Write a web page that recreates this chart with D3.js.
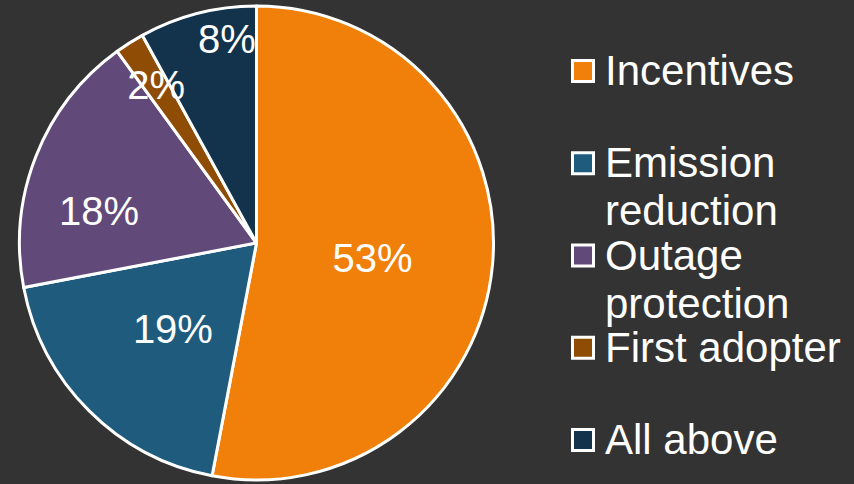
<!DOCTYPE html>
<html>
<head>
<meta charset="utf-8">
<script src="https://cdn.jsdelivr.net/npm/d3@7"></script>
<style>
  html, body { margin: 0; padding: 0; background: #333333; }
  svg { display: block; }
  text { font-family: "Liberation Sans", Arial, sans-serif; fill: #ffffff; }
</style>
</head>
<body>
<svg id="chart" width="854" height="484"></svg>
<script>
// Share of respondents by primary motivation
const categories = ["Incentives", "Emission reduction", "Outage protection", "First adopter", "All above"];
const shares = [53, 19, 18, 2, 8];
const legendLines = [["Incentives"], ["Emission", "reduction"], ["Outage", "protection"], ["First adopter"], ["All above"]];

const colors = ["#F0800A", "#1E5B7D", "#614A7A", "#8F4C05", "#12334B"];

// Label placement along each slice: angle (deg, clockwise from top) and radius fraction
const labelPlacement = [
  { angle: 97.4, r: 0.494 },
  { angle: 224.2, r: 0.506 },
  { angle: 281.5, r: 0.678 },
  { angle: 327.6, r: 0.79 },
  { angle: 351.8, r: 0.873 }
];

const svg = d3.select("#chart");
const cx = 256.5, cy = 243, radius = 237;

const pie = d3.pie().sort(null).value(d => d)(shares);
const arc = d3.arc().innerRadius(0).outerRadius(radius);

const g = svg.append("g").attr("transform", `translate(${cx},${cy})`);

g.selectAll("path.slice")
  .data(pie)
  .join("path")
  .attr("class", "slice")
  .attr("d", arc)
  .attr("fill", (d, i) => colors[i])
  .attr("stroke", "#ffffff")
  .attr("stroke-width", 3)
  .attr("stroke-linejoin", "round");

const labelFont = 40;
g.selectAll("text.pct")
  .data(pie)
  .join("text")
  .attr("class", "pct")
  .attr("text-anchor", "middle")
  .attr("font-size", labelFont)
  .attr("x", (d, i) => Math.sin(labelPlacement[i].angle * Math.PI / 180) * labelPlacement[i].r * radius)
  .attr("y", (d, i) => -Math.cos(labelPlacement[i].angle * Math.PI / 180) * labelPlacement[i].r * radius)
  .attr("dy", "0.36em")
  .text(d => d.data + "%");

// Legend
const legendY = d3.scalePoint().domain(categories).range([71, 440]);
const legend = svg.append("g").attr("transform", "translate(571,0)");
const items = legend.selectAll("g.item")
  .data(categories)
  .join("g")
  .attr("class", "item")
  .attr("transform", c => `translate(0,${legendY(c)})`);

items.append("rect")
  .attr("x", 1.5).attr("y", -10.5)
  .attr("width", 21).attr("height", 21)
  .attr("fill", (c, i) => colors[i])
  .attr("stroke", "#ffffff")
  .attr("stroke-width", 3);

items.append("text")
  .attr("font-size", 42)
  .attr("x", 34)
  .each(function (c, i) {
    const t = d3.select(this);
    legendLines[i].forEach((line, j) => {
      t.append("tspan")
        .attr("x", 34)
        .attr("y", 14 + j * 48)
        .text(line);
    });
  });
</script>
</body>
</html>
